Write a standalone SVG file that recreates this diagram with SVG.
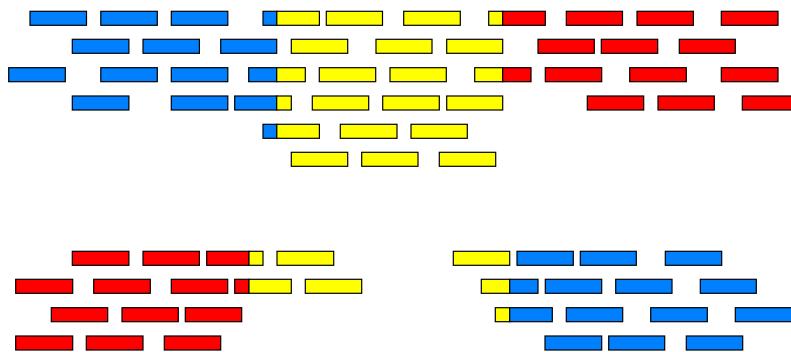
<svg xmlns="http://www.w3.org/2000/svg" width="791" height="352" viewBox="0 0 791 352">
<style>
rect{stroke:#000;stroke-width:1.2;height:14px}
.b{fill:#0080ff}.y{fill:#ffff00}.r{fill:#ff0000}
</style>
<rect width="791" height="352" fill="#fff" style="stroke:none;height:352px"/>
<g id="top">
<g id="row1">
<rect class="b" x="30" y="11.3" width="56.5"/>
<rect class="b" x="100.8" y="11.3" width="56.5"/>
<rect class="b" x="171.3" y="11.3" width="56.5"/>
<rect class="b" x="263" y="11.3" width="13.8"/><rect class="y" x="276.8" y="11.3" width="42.6"/>
<rect class="y" x="326.3" y="11.3" width="56.2"/>
<rect class="y" x="403.7" y="11.3" width="56.6"/>
<rect class="y" x="488.7" y="11.3" width="14"/><rect class="r" x="502.7" y="11.3" width="42.6"/>
<rect class="r" x="566.3" y="11.3" width="56.2"/>
<rect class="r" x="637" y="11.3" width="56.4"/>
<rect class="r" x="721.3" y="11.3" width="56.7"/>
</g>
<g id="row2">
<rect class="b" x="72.3" y="39.3" width="56.6"/>
<rect class="b" x="143" y="39.3" width="56.4"/>
<rect class="b" x="220.7" y="39.3" width="56"/>
<rect class="y" x="291.3" y="39.3" width="56.4"/>
<rect class="y" x="376" y="39.3" width="56"/>
<rect class="y" x="446.7" y="39.3" width="56"/>
<rect class="r" x="538" y="39.3" width="56.3"/>
<rect class="r" x="601.3" y="39.3" width="56.4"/>
<rect class="r" x="679.3" y="39.3" width="56"/>
</g>
<g id="row3">
<rect class="b" x="8.7" y="67.7" width="56.6"/>
<rect class="b" x="100.8" y="67.7" width="56.5"/>
<rect class="b" x="171.3" y="67.7" width="56.5"/>
<rect class="b" x="248.7" y="67.7" width="28"/><rect class="y" x="276.7" y="67.7" width="28.6"/>
<rect class="y" x="319.3" y="67.7" width="56.4"/>
<rect class="y" x="390" y="67.7" width="56.3"/>
<rect class="y" x="474.7" y="67.7" width="28"/><rect class="r" x="502.7" y="67.7" width="28.3"/>
<rect class="r" x="545.3" y="67.7" width="56.4"/>
<rect class="r" x="629.7" y="67.7" width="56.6"/>
<rect class="r" x="721.3" y="67.7" width="56.7"/>
</g>
<g id="row4">
<rect class="b" x="72.3" y="96" width="56.6"/>
<rect class="b" x="171.3" y="96" width="56.5"/>
<rect class="b" x="234.7" y="96" width="42"/><rect class="y" x="276.7" y="96" width="14.6"/>
<rect class="y" x="312.3" y="96" width="56.4"/>
<rect class="y" x="382.7" y="96" width="56.6"/>
<rect class="y" x="446.7" y="96" width="56"/>
<rect class="r" x="587.3" y="96" width="56.4"/>
<rect class="r" x="658" y="96" width="56.3"/>
<rect class="r" x="742.3" y="96" width="56.4"/>
</g>
<g id="row5">
<rect class="b" x="263" y="124.3" width="13.8"/><rect class="y" x="276.8" y="124.3" width="42.6"/>
<rect class="y" x="340.3" y="124.3" width="56.7"/>
<rect class="y" x="411" y="124.3" width="56.3"/>
</g>
<g id="row6">
<rect class="y" x="291.3" y="152.3" width="56.4"/>
<rect class="y" x="361.7" y="152.3" width="56.3"/>
<rect class="y" x="439.3" y="152.3" width="56.4"/>
</g>
</g>
<g id="bottom-left">
<g id="rowA">
<rect class="r" x="72.3" y="251.3" width="56.6"/>
<rect class="r" x="143" y="251.3" width="56.4"/>
<rect class="r" x="206.7" y="251.3" width="42.3"/><rect class="y" x="249" y="251.3" width="14"/>
<rect class="y" x="277" y="251.3" width="56.7"/>
</g>
<g id="rowB">
<rect class="r" x="15.7" y="279.3" width="57"/>
<rect class="r" x="93.7" y="279.3" width="56.6"/>
<rect class="r" x="171.3" y="279.3" width="56.4"/>
<rect class="r" x="234.7" y="279.3" width="14.3"/><rect class="y" x="249" y="279.3" width="42.3"/>
<rect class="y" x="305.3" y="279.3" width="56.4"/>
</g>
<g id="rowC">
<rect class="r" x="51.3" y="307.7" width="56.4"/>
<rect class="r" x="122" y="307.7" width="56.3"/>
<rect class="r" x="185.3" y="307.7" width="56.4"/>
</g>
<g id="rowD">
<rect class="r" x="15.7" y="336" width="57"/>
<rect class="r" x="86.3" y="336" width="56.7"/>
<rect class="r" x="164.3" y="336" width="56.4"/>
</g>
</g>
<g id="bottom-right">
<g id="rowE">
<rect class="y" x="453.3" y="251.3" width="56.4"/>
<rect class="b" x="517" y="251.3" width="56.3"/>
<rect class="b" x="580.3" y="251.3" width="56"/>
<rect class="b" x="665.3" y="251.3" width="56.4"/>
</g>
<g id="rowF">
<rect class="y" x="481.3" y="279.3" width="28.4"/><rect class="b" x="509.7" y="279.3" width="28.3"/>
<rect class="b" x="545.3" y="279.3" width="56.4"/>
<rect class="b" x="615.7" y="279.3" width="56.3"/>
<rect class="b" x="700.3" y="279.3" width="56"/>
</g>
<g id="rowG">
<rect class="y" x="495.3" y="307.7" width="14.4"/><rect class="b" x="509.7" y="307.7" width="42.6"/>
<rect class="b" x="566.3" y="307.7" width="56.4"/>
<rect class="b" x="650.7" y="307.7" width="56.6"/>
<rect class="b" x="735.3" y="307.7" width="56.5"/>
</g>
<g id="rowH">
<rect class="b" x="545" y="336" width="56.7"/>
<rect class="b" x="608.7" y="336" width="56"/>
<rect class="b" x="686.3" y="336" width="56.4"/>
</g>
</g>
<g id="connectors"/>
</svg>
